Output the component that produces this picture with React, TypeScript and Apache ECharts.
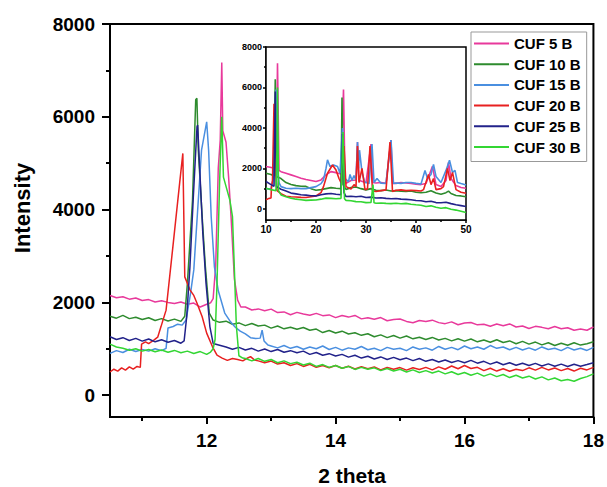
import React, { useEffect, useRef } from "react";
import * as echarts from "echarts";

type Pts = [number, number][];

const seriesNames = ["CUF 5 B", "CUF 10 B", "CUF 15 B", "CUF 20 B", "CUF 25 B", "CUF 30 B"];
const seriesColors = ["#E8399B", "#2E8B2E", "#4A8FE0", "#E82020", "#22228A", "#33D633"];

const mainXMajor = [12, 14, 16, 18];
const mainXMinor = [11, 13, 15, 17];
const mainYMajor = [0, 2000, 4000, 6000, 8000];
const mainYMinor = [1000, 3000, 5000, 7000];
const insetXMajor = [10, 20, 30, 40, 50];
const insetXMinor = [15, 25, 35, 45];
const insetYMajor = [0, 2000, 4000, 6000, 8000];
const insetYMinor = [1000, 3000, 5000, 7000];

// ---- main panel (2 theta 10.5 - 18) ----
const cuf5Main: Pts = [
  [10.5, 2150], [10.6, 2100], [10.7, 2120], [10.8, 2070], [10.9, 2095], [11.0, 2040], [11.1, 2060], [11.2, 2010],
  [11.3, 2035], [11.4, 2000], [11.5, 1975], [11.6, 2010], [11.7, 1960], [11.8, 1985], [11.9, 1900], [12.0, 1960],
  [12.06, 1990], [12.1, 2080], [12.14, 2800], [12.18, 4900], [12.21, 5500], [12.234, 7170], [12.25, 5700],
  [12.3, 5450], [12.34, 4700], [12.38, 3800], [12.43, 2500], [12.48, 2050], [12.53, 1900],
  [12.6, 1900], [12.7, 1835], [12.8, 1860], [12.9, 1820], [13.0, 1855], [13.1, 1780], [13.2, 1795], [13.3, 1735],
  [13.4, 1785], [13.5, 1751], [13.6, 1722], [13.7, 1763], [13.8, 1714], [13.9, 1730], [14.0, 1671], [14.1, 1717],
  [14.2, 1683], [14.3, 1719], [14.4, 1645], [14.5, 1671], [14.6, 1637], [14.7, 1673], [14.8, 1604], [14.9, 1630],
  [15.0, 1642], [15.1, 1590], [15.2, 1563], [15.3, 1611], [15.4, 1589], [15.5, 1617], [15.6, 1564], [15.7, 1542],
  [15.8, 1580], [15.9, 1518], [16.0, 1555], [16.1, 1568], [16.2, 1516], [16.3, 1529], [16.4, 1486], [16.5, 1534],
  [16.6, 1497], [16.7, 1536], [16.8, 1469], [16.9, 1492], [17.0, 1436], [17.1, 1484], [17.2, 1462], [17.3, 1431],
  [17.4, 1479], [17.5, 1432], [17.6, 1455], [17.7, 1399], [17.8, 1427], [17.9, 1400], [18.0, 1470],
];

const cuf10Main: Pts = [
  [10.5, 1700], [10.6, 1660], [10.7, 1720], [10.8, 1650], [10.9, 1680], [11.0, 1630], [11.1, 1670], [11.2, 1610],
  [11.3, 1650], [11.4, 1600], [11.5, 1640], [11.6, 1590], [11.66, 1700], [11.7, 2400], [11.78, 4200], [11.83, 6370],
  [11.848, 6400], [11.87, 5280], [11.93, 3845], [11.98, 2766], [12.04, 1770], [12.1, 1620],
  [12.2, 1570], [12.3, 1596], [12.4, 1529], [12.5, 1558], [12.6, 1500], [12.7, 1545], [12.8, 1490], [12.9, 1510],
  [13.0, 1445], [13.1, 1490], [13.2, 1430], [13.3, 1465], [13.4, 1420], [13.5, 1460], [13.6, 1400], [13.7, 1425],
  [13.8, 1350], [13.9, 1395], [14.0, 1340], [14.1, 1380], [14.2, 1320], [14.3, 1345], [14.4, 1290], [14.5, 1325],
  [14.6, 1260], [14.7, 1300], [14.8, 1240], [14.9, 1285], [15.0, 1230], [15.1, 1275], [15.2, 1215], [15.3, 1250],
  [15.4, 1200], [15.5, 1245], [15.6, 1190], [15.7, 1225], [15.8, 1170], [15.9, 1215], [16.0, 1165], [16.1, 1210],
  [16.2, 1150], [16.3, 1190], [16.4, 1140], [16.5, 1195], [16.6, 1135], [16.7, 1170], [16.8, 1110], [16.9, 1160],
  [17.0, 1100], [17.1, 1145], [17.2, 1085], [17.3, 1130], [17.4, 1070], [17.5, 1120], [17.6, 1075], [17.7, 1130],
  [17.8, 1080], [17.9, 1110], [18.0, 1150],
];

const cuf15Main: Pts = [
  [10.5, 900], [10.6, 960], [10.7, 920], [10.8, 990], [10.9, 940], [11.0, 985], [11.1, 950], [11.2, 1000],
  [11.3, 960], [11.37, 1010], [11.4, 1450], [11.48, 1480], [11.55, 1530], [11.62, 1510], [11.68, 1620],
  [11.75, 2200], [11.8, 2700], [11.86, 3990], [11.92, 5280], [12.0, 5890], [12.03, 5280], [12.07, 3845],
  [12.12, 2766], [12.18, 2250], [12.28, 1770], [12.36, 1600], [12.44, 1470], [12.52, 1380], [12.6, 1320],
  [12.68, 1240], [12.76, 1220], [12.83, 1230], [12.86, 1400], [12.89, 1170], [12.95, 1080],
  [13.0, 1060], [13.1, 1020], [13.2, 1070], [13.3, 1010], [13.4, 1050], [13.5, 990], [13.6, 1040], [13.7, 1000],
  [13.8, 1060], [13.9, 985], [14.0, 1030], [14.1, 970], [14.2, 1020], [14.3, 990], [14.4, 1050], [14.5, 980],
  [14.6, 1010], [14.7, 960], [14.8, 1030], [14.9, 990], [15.0, 1010], [15.1, 960], [15.2, 1040], [15.3, 990],
  [15.4, 1020], [15.5, 970], [15.6, 1050], [15.7, 990], [15.8, 1030], [15.9, 980], [16.0, 1060], [16.1, 1000],
  [16.2, 1040], [16.3, 990], [16.4, 1070], [16.5, 1010], [16.6, 1040], [16.7, 980], [16.8, 1030], [16.9, 975],
  [17.0, 1020], [17.1, 970], [17.2, 1040], [17.3, 985], [17.4, 1010], [17.5, 960], [17.6, 1030], [17.7, 975],
  [17.8, 1010], [17.9, 965], [18.0, 1030],
];

const cuf20Main: Pts = [
  [10.5, 500], [10.56, 560], [10.62, 520], [10.68, 590], [10.74, 540], [10.8, 610], [10.86, 560], [10.92, 620],
  [10.97, 600], [10.99, 1100], [11.05, 1150], [11.1, 1110], [11.18, 1186], [11.24, 1250], [11.29, 1473],
  [11.37, 1833], [11.47, 3127], [11.58, 4565], [11.63, 5210], [11.66, 2550], [11.74, 2271], [11.8, 2150],
  [11.85, 1982], [11.93, 1690], [12.0, 1337], [12.09, 1043], [12.16, 863], [12.24, 800], [12.32, 750],
  [12.4, 790], [12.48, 770], [12.56, 740], [12.62, 790], [12.68, 830], [12.74, 760],
  [12.8, 740], [12.9, 700], [13.0, 735], [13.1, 670], [13.2, 700], [13.3, 640], [13.4, 680], [13.5, 620],
  [13.6, 665], [13.7, 600], [13.8, 640], [13.9, 590], [14.0, 640], [14.1, 580], [14.2, 625], [14.3, 565],
  [14.4, 615], [14.5, 570], [14.6, 610], [14.7, 545], [14.8, 600], [14.9, 560], [15.0, 595], [15.1, 540],
  [15.2, 590], [15.3, 555], [15.4, 600], [15.5, 545], [15.6, 610], [15.7, 560], [15.8, 630], [15.9, 570],
  [16.0, 640], [16.1, 575], [16.2, 600], [16.3, 530], [16.4, 580], [16.5, 520], [16.6, 570], [16.7, 515],
  [16.8, 560], [16.9, 530], [17.0, 590], [17.1, 540], [17.2, 600], [17.3, 545], [17.4, 585], [17.5, 530],
  [17.6, 575], [17.7, 520], [17.8, 580], [17.9, 545], [18.0, 600],
];

const cuf25Main: Pts = [
  [10.5, 1260], [10.6, 1200], [10.7, 1240], [10.8, 1180], [10.9, 1225], [11.0, 1165], [11.1, 1210], [11.2, 1150],
  [11.3, 1195], [11.4, 1140], [11.5, 1180], [11.6, 1120], [11.65, 1170], [11.69, 1690], [11.74, 2766],
  [11.79, 4200], [11.85, 5786], [11.86, 5820], [11.89, 4923], [11.94, 3487], [11.99, 2408], [12.05, 1473],
  [12.1, 1115], [12.2, 1078],
  [12.3, 1040], [12.4, 990], [12.5, 1030], [12.6, 975], [12.7, 1010], [12.8, 950], [12.9, 995], [13.0, 940],
  [13.1, 985], [13.2, 925], [13.3, 960], [13.4, 915], [13.5, 950], [13.6, 880], [13.7, 920], [13.8, 860],
  [13.9, 895], [14.0, 845], [14.1, 880], [14.2, 820], [14.3, 860], [14.4, 800], [14.5, 840], [14.6, 780],
  [14.7, 825], [14.8, 770], [14.9, 815], [15.0, 765], [15.1, 800], [15.2, 745], [15.3, 790], [15.4, 730],
  [15.5, 770], [15.6, 715], [15.7, 760], [15.8, 705], [15.9, 745], [16.0, 700], [16.1, 750], [16.2, 690],
  [16.3, 730], [16.4, 670], [16.5, 715], [16.6, 655], [16.7, 700], [16.8, 645], [16.9, 690], [17.0, 640],
  [17.1, 685], [17.2, 630], [17.3, 675], [17.4, 625], [17.5, 670], [17.6, 620], [17.7, 665], [17.8, 625],
  [17.9, 660], [18.0, 700],
];

const cuf30Main: Pts = [
  [10.5, 1100], [10.6, 1040], [10.7, 1010], [10.8, 970], [10.9, 1000], [11.0, 950], [11.1, 985], [11.2, 935],
  [11.3, 975], [11.4, 925], [11.5, 965], [11.6, 915], [11.7, 950], [11.8, 900], [11.9, 940], [12.0, 880],
  [12.06, 930], [12.1, 1000], [12.13, 1200], [12.16, 2400], [12.2, 4565], [12.234, 6000], [12.26, 4700],
  [12.3, 4500], [12.36, 4200], [12.4, 3850], [12.43, 2700], [12.46, 1500], [12.5, 850], [12.56, 800],
  [12.6, 790], [12.7, 740], [12.8, 790], [12.9, 730], [13.0, 770], [13.1, 700], [13.2, 740], [13.3, 680],
  [13.4, 710], [13.5, 650], [13.6, 690], [13.7, 620], [13.8, 660], [13.9, 600], [14.0, 640], [14.1, 580],
  [14.2, 620], [14.3, 555], [14.4, 600], [14.5, 560], [14.6, 590], [14.7, 530], [14.8, 575], [14.9, 520],
  [15.0, 560], [15.1, 500], [15.2, 545], [15.3, 490], [15.4, 530], [15.5, 480], [15.6, 520], [15.7, 460],
  [15.8, 505], [15.9, 445], [16.0, 490], [16.1, 430], [16.2, 475], [16.3, 410], [16.4, 460], [16.5, 400],
  [16.6, 445], [16.7, 380], [16.8, 430], [16.9, 370], [17.0, 410], [17.1, 350], [17.2, 395], [17.3, 330],
  [17.4, 370], [17.5, 310], [17.6, 340], [17.7, 300], [17.8, 360], [17.9, 400], [18.0, 460],
];

// ---- inset panel (2 theta 10 - 50) ----
const cuf5Inset: Pts = [
  [10, 2090], [10.8, 2060], [11.5, 2020], [12.0, 1980], [12.2, 5000], [12.3, 7200], [12.4, 5500], [12.6, 1900],
  [13, 1840], [14, 1760], [15, 1680], [16, 1600], [17, 1514], [18, 1450], [19, 1400], [20, 1350], [21, 1430],
  [22, 1680], [23, 1840], [24, 1790], [25, 1720], [25.5, 5900], [25.8, 1500], [26, 1270], [27, 1400], [28, 1430],
  [28.3, 3300], [28.6, 1400], [29, 1380], [30, 1290], [31, 3200], [31.3, 1300], [32, 1280], [33, 1300],
  [34, 1270], [35, 3400], [35.3, 1260], [36, 1260], [37, 1300], [38, 1280], [39, 1260], [40, 1220], [41, 1200],
  [42, 1250], [43.3, 2100], [44, 1200], [45, 1100], [46, 1400], [46.5, 2300], [47, 1500], [48, 1150],
  [49, 1060], [50, 1020],
];
const cuf10Inset: Pts = [
  [10, 1760], [11, 1700], [11.6, 1620], [11.85, 6400], [12.1, 1600], [13, 1500], [14, 1300], [15, 1200],
  [16, 1150], [17, 1120], [18, 1110], [19, 1000], [20, 920], [21, 950], [22, 1000], [23, 1050], [24, 1020],
  [25, 1000], [25.2, 5500], [25.4, 1200], [26, 960], [27, 1050], [28, 1080], [29, 1000], [30, 940], [31, 1000],
  [32, 920], [33, 900], [34, 930], [35, 880], [36, 900], [37, 870], [38, 860], [39, 880], [40, 820], [41, 800],
  [42, 820], [43, 900], [44, 780], [45, 720], [46, 800], [46.5, 880], [47, 760], [48, 660], [49, 640], [50, 600],
];
const cuf15Inset: Pts = [
  [10, 1000], [11, 980], [11.4, 1450], [11.7, 2200], [12, 5900], [12.2, 2300], [12.6, 1300], [13, 1100],
  [14, 1020], [15, 1000], [16, 1020], [17, 1000], [18, 1000], [19, 1050], [20, 1100], [21, 1250], [21.5, 1430],
  [22, 2000], [22.3, 2420], [22.8, 2090], [23.5, 2170], [24.3, 2090], [24.8, 1760], [25.3, 4000], [25.8, 1500],
  [26.5, 1350], [26.8, 1700], [27.2, 1400], [27.6, 1650], [28, 1400], [28.3, 3300], [28.5, 2000], [28.7, 2900],
  [29.2, 1800], [29.7, 1350], [30, 1300], [30.6, 1250], [31.2, 3200], [31.6, 1300], [32.2, 1500], [33, 1270],
  [34, 1260], [35, 3400], [35.5, 1250], [36, 1280], [37, 1260], [38, 1300], [39, 1300], [40, 1260], [41, 1230],
  [41.8, 1900], [42.3, 1500], [43, 1700], [43.5, 2200], [44, 1600], [45, 1300], [46, 1900], [46.7, 2400],
  [47.3, 1800], [47.8, 1900], [48.3, 1300], [49, 1250], [50, 1180],
];
const cuf20Inset: Pts = [
  [10, 450], [10.6, 520], [11, 540], [11.1, 1100], [11.3, 1400], [11.6, 5200], [11.8, 2200], [12.2, 900],
  [13, 750], [14, 620], [15, 600], [16, 590], [17, 570], [18, 560], [19, 600], [20, 640], [21, 800], [21.5, 1100],
  [22.3, 1760], [23.3, 2170], [24, 1920], [24.6, 1500], [25, 1300], [25.6, 3100], [26, 1100], [27, 980],
  [27.6, 1200], [28, 1100], [28.3, 3100], [28.6, 1300], [29.2, 2000], [29.8, 950], [30.3, 1000], [30.8, 3100],
  [31.3, 900], [32, 860], [33, 900], [34, 940], [34.8, 3300], [35.3, 860], [36, 920], [37, 940], [38, 900],
  [39, 920], [40, 900], [41, 880], [41.5, 950], [42.5, 1700], [43, 1200], [43.5, 1500], [44, 950], [45, 1000],
  [45.5, 1100], [46.3, 2000], [46.8, 1400], [47.3, 1800], [48, 950], [49, 820], [50, 770],
];
const cuf25Inset: Pts = [
  [10, 1350], [11, 1200], [11.6, 1120], [11.85, 5800], [12.1, 1100], [13, 970], [14, 880], [15, 780],
  [16, 740], [17, 700], [18, 680], [19, 650], [20, 640], [21, 700], [22, 740], [23, 760], [24, 720], [25, 700],
  [25.3, 3700], [25.6, 800], [26, 610], [27, 620], [28, 600], [29, 620], [30, 560], [31, 580], [32, 540],
  [33, 550], [34, 520], [35, 500], [36, 510], [37, 480], [38, 470], [39, 450], [40, 410], [41, 400], [42, 350],
  [43, 380], [44, 310], [45, 300], [46, 330], [47, 260], [48, 200], [49, 160], [50, 115],
];
const cuf30Inset: Pts = [
  [10, 1020], [11, 950], [12, 900], [12.2, 3000], [12.3, 6000], [12.5, 900], [13, 690], [14, 600], [15, 530],
  [16, 480], [17, 450], [18, 420], [19, 430], [20, 440], [21, 480], [22, 530], [23, 520], [24, 500], [25, 520],
  [25.4, 3800], [25.7, 500], [26, 420], [27, 400], [28, 360], [29, 350], [30, 310], [31, 320], [31.4, 1200],
  [31.6, 300], [32, 280], [33, 290], [34, 270], [35, 260], [36, 280], [37, 250], [38, 270], [39, 230], [40, 200],
  [41, 180], [42, 120], [43, 150], [44, 80], [45, 30], [46, 60], [47, -20], [48, -60], [49, -120], [50, -180],
];

const mainData = [cuf5Main, cuf10Main, cuf15Main, cuf20Main, cuf25Main, cuf30Main];
const insetData = [cuf5Inset, cuf10Inset, cuf15Inset, cuf20Inset, cuf25Inset, cuf30Inset];

const FONT = "'Liberation Sans', Arial, Helvetica, sans-serif";

function makeAxis(
  kind: "x" | "y",
  grid: number,
  min: number,
  max: number,
  ticks: number[],
  tickLen: number,
  showLine: boolean,
  label: { show: boolean; size: number; margin: number },
  lineWidth: number
) {
  return {
    type: "value",
    gridIndex: grid,
    position: kind === "x" ? "bottom" : "left",
    min,
    max,
    splitLine: { show: false },
    axisLine: { show: showLine, onZero: false, lineStyle: { color: "#000", width: lineWidth } },
    axisTick: {
      show: true,
      inside: false,
      length: tickLen,
      customValues: ticks,
      lineStyle: { color: "#000", width: lineWidth },
    },
    axisLabel: {
      show: label.show,
      customValues: ticks,
      formatter: (v: number) => String(v),
      color: "#000",
      fontFamily: FONT,
      fontWeight: "bold",
      fontSize: label.size,
      margin: label.margin,
    },
  };
}

export default function App() {
  const ref = useRef<HTMLDivElement>(null);

  useEffect(() => {
    if (!ref.current) return;
    const chart = echarts.init(ref.current, undefined, { renderer: "svg" });

    const series: any[] = [];
    seriesNames.forEach((name, i) => {
      series.push({
        name,
        type: "line",
        xAxisIndex: 0,
        yAxisIndex: 0,
        data: mainData[i],
        symbol: "none",
        lineStyle: { color: seriesColors[i], width: 1.5 },
        itemStyle: { color: seriesColors[i] },
        z: 2,
      });
    });
    seriesNames.forEach((name, i) => {
      series.push({
        name,
        type: "line",
        xAxisIndex: 2,
        yAxisIndex: 2,
        data: insetData[i],
        symbol: "none",
        lineStyle: { color: seriesColors[i], width: 1.6 },
        itemStyle: { color: seriesColors[i] },
        z: 4,
      });
    });

    const noLabel = { show: false, size: 10, margin: 4 };

    chart.setOption({
      animation: false,
      backgroundColor: "#fff",
      textStyle: { fontFamily: FONT },
      grid: [
        { left: 110, right: 13, top: 24, bottom: 70, show: true, borderColor: "#000", borderWidth: 2, backgroundColor: "transparent", z: 0 },
        { left: 266, top: 47, width: 200, height: 173, show: true, borderColor: "#000", borderWidth: 1.5, backgroundColor: "#fff", z: 3 },
      ],
      xAxis: [
        makeAxis("x", 0, 10.5, 18, mainXMajor, 7, true, { show: true, size: 19, margin: 14 }, 2),
        makeAxis("x", 0, 10.5, 18, mainXMinor, 4, false, noLabel, 2),
        makeAxis("x", 1, 10, 50, insetXMajor, 3, true, { show: true, size: 10, margin: 4 }, 1.5),
        makeAxis("x", 1, 10, 50, insetXMinor, 2, false, noLabel, 1.5),
      ],
      yAxis: [
        makeAxis("y", 0, -470, 8000, mainYMajor, 8, true, { show: true, size: 19, margin: 15 }, 2),
        makeAxis("y", 0, -470, 8000, mainYMinor, 4, false, noLabel, 2),
        makeAxis("y", 1, -550, 8000, insetYMajor, 3, true, { show: true, size: 9, margin: 4 }, 1.5),
        makeAxis("y", 1, -550, 8000, insetYMinor, 2, false, noLabel, 1.5),
      ],
      legend: {
        data: seriesNames,
        orient: "vertical",
        left: 471,
        top: 32,
        padding: [4, 6, 7, 2],
        itemWidth: 35,
        itemHeight: 14,
        itemGap: 5.7,
        backgroundColor: "#fff",
        borderColor: "#999",
        borderWidth: 1,
        itemStyle: { opacity: 0 },
        lineStyle: { width: 2 },
        textStyle: { fontFamily: FONT, fontWeight: "bold", fontSize: 15, color: "#000" },
        z: 10,
      },
      graphic: [
        {
          type: "text",
          x: 22,
          y: 208,
          rotation: Math.PI / 2,
          style: {
            text: "Intensity",
            font: `bold 22px ${FONT}`,
            fill: "#000",
            textAlign: "center",
            textVerticalAlign: "middle",
          },
        },
        {
          type: "text",
          x: 352,
          y: 475,
          style: {
            text: "2 theta",
            font: `bold 21px ${FONT}`,
            fill: "#000",
            textAlign: "center",
            textVerticalAlign: "middle",
          },
        },
      ],
      series,
    });

    return () => chart.dispose();
  }, []);

  return (
    <div
      ref={ref}
      style={{ position: "fixed", left: 0, top: 0, width: 607, height: 487 }}
    />
  );
}
